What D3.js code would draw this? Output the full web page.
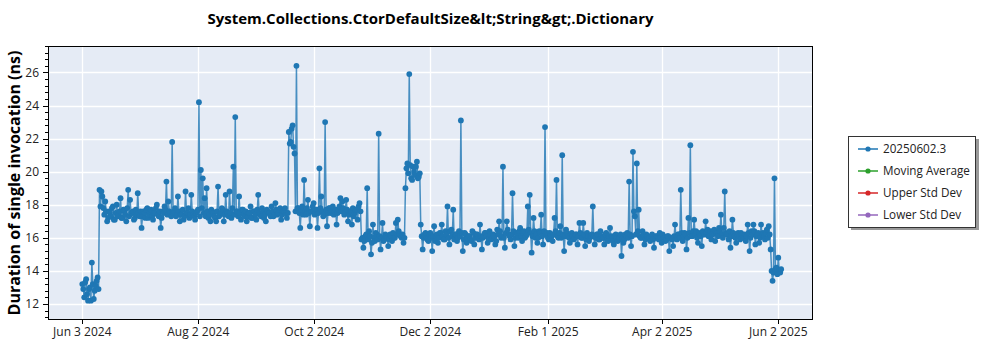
<!DOCTYPE html>
<html><head><meta charset="utf-8">
<script src="https://cdn.jsdelivr.net/npm/d3@7"></script>
<style>body{margin:0;background:#fff;} svg{display:block;}</style>
</head><body><svg id="c" width="1000" height="350"></svg>
<script>
const chartTitle = "System.Collections.CtorDefaultSize&lt;String&gt;.Dictionary";
const yAxisLabel = "Duration of single invocation (ns)";
const seriesStart = "2024-06-03";
const seriesValuesRunA = [
13.2,12.4,13.5,12.2,13.0,14.5,12.3,13.1,13.6,
18.9,18.8,17.8,18.2,17.0,17.6,17.3,17.9,17.1,18.0,17.4,18.4,17.2,17.6,17.0,18.9,18.3,17.5,17.1,17.7,18.7,
17.3,16.6,17.6,17.2,17.8,17.4,17.7,17.1,17.5,18.0,17.3,16.6,17.6,17.9,19.4,18.2,17.5,21.8,17.6,17.3,
18.5,17.0,17.4,17.1,18.8,17.5,17.2,18.6,17.4,17.1,17.6,24.2,20.1,19.6,18.4,19.0,17.2,17.0,17.6,17.3,
17.0,19.1,17.4,17.8,17.0,18.6,17.5,18.8,17.2,20.3,23.3,17.6,18.5,17.1,17.7,17.3,17.0,17.5,17.9,17.2,
17.6,17.1,18.6,17.4,17.8,17.2,17.0,17.6,17.5,17.9,17.3,18.1,17.4,17.7,17.1,17.6,17.8,17.2,
22.4,21.8,22.8,21.1,26.4,17.8,16.6,17.9,19.5,17.4,18.3,16.7,17.6,18.1,17.5,16.6,20.2,18.5,17.3,23.0,
16.7,17.8,17.5,17.9,17.6,16.8,17.7,18.4,18.2,17.4,18.3,17.0,17.6,16.8,17.3,17.7,17.1,18.1,
15.9,15.4,16.1,19.0,16.4,15.0,16.8,15.8,16.2,22.3,15.3,16.9,15.9,16.1,15.5,16.2,15.8,16.0,16.9,17.1,16.2,16.0,15.7,
19.0,20.5,25.9,19.6,20.3,19.8,20.6,19.7,
16.8,15.3,16.2,16.0,15.8,16.3,15.2,16.7,16.1,15.7,16.3,16.8,15.9,16.4,17.9,15.6,16.5,17.7,16.2,15.8,
16.4,23.1,15.2,16.3,15.7,16.1,15.9,16.4,15.6,16.2,16.0,16.8,15.3,16.1,16.3,15.7,16.4,15.9,16.2,15.6,
16.5,17.0,16.0,20.3,15.4,17.0,16.2,15.9,18.7,15.5,16.3,16.0,16.6,15.8,16.4,16.1,17.9,18.6,15.1,17.2,
16.0,15.7,16.4,17.4,15.6,22.7,16.3,15.9,16.2,15.8,17.2,19.5,16.0,16.7,21.0,15.2,16.5,16.1,15.7,16.3,
15.9,16.2,15.6,16.9,16.0,16.9,15.5,16.3,15.8,16.1,17.9,15.6,16.2,15.9,16.4,
16.0,15.6,16.3,15.8,16.6,16.1,15.6,16.2,15.8,16.0,14.9,15.7,16.2,16.3,19.4,15.5,21.2,17.3,20.5,17.7,
16.0,16.4,15.6,16.2,16.0,15.8,16.2,15.4,16.1,16.0,16.3,15.7,16.0,15.8,16.1,15.2,16.0,15.5,16.8,15.9,
16.2,18.9,15.8,16.3,15.3,17.2,21.6,16.1,17.1,16.4,15.7,16.2,15.5,16.3,17.0,16.5,16.1,15.9,16.4,15.8,
16.3,16.6,17.4,16.0,18.8,16.2,15.9,15.4,17.1,16.1,15.7,16.3,15.9,16.2,16.0,15.8,16.8,15.2,16.4,16.8,
15.6,16.2,15.7,16.8,16.3,15.9,16.5,16.7,
15.3,13.4,19.6,14.2,14.8,13.9
];
// second measurement of each day (ns), half a day later
const seriesValuesRunB = [
12.9,13.3,12.6,12.9,12.2,13.2,12.8,13.4,12.9,
17.9,18.5,17.4,17.6,17.2,17.5,17.8,17.1,17.5,17.3,17.6,17.2,17.7,17.4,17.8,17.3,17.5,17.6,17.2,17.4,17.5,
17.6,17.3,17.5,17.7,17.2,17.6,17.3,17.5,17.8,17.4,17.6,17.2,17.5,17.7,17.4,17.6,17.3,17.5,17.8,17.4,
17.6,17.4,17.7,17.3,17.5,17.8,17.4,17.6,17.3,17.5,17.7,17.3,17.8,17.5,17.3,17.6,17.4,17.7,17.5,17.2,
17.6,17.3,17.5,17.7,17.4,17.6,17.3,17.5,17.8,17.4,17.6,17.3,17.5,17.7,17.4,17.6,17.3,17.5,17.2,17.6,
17.4,17.7,17.5,17.3,17.6,17.4,17.7,17.5,17.3,17.6,17.4,17.7,17.5,17.8,17.4,17.6,17.5,17.5,
21.7,22.6,21.5,17.6,17.8,
17.5,17.7,17.4,17.6,17.8,17.5,17.6,17.9,17.4,17.7,17.5,17.8,17.6,17.4,17.7,17.5,17.8,17.6,17.4,17.7,
17.5,17.9,17.6,17.8,17.5,17.7,17.4,17.6,17.8,17.5,17.7,17.9,17.6,
16.0,15.8,16.2,15.9,16.1,15.7,16.0,16.3,15.9,16.1,16.0,15.8,16.2,16.0,15.9,16.1,16.3,16.0,16.2,16.4,16.1,16.2,16.0,
20.2,19.9,20.4,19.5,20.0,20.3,19.6,19.9,
16.1,16.0,16.3,15.9,16.2,16.0,16.1,15.8,16.2,16.0,
16.3,16.1,15.9,16.2,16.0,16.4,16.1,15.9,16.2,16.0,
16.1,16.3,15.9,16.2,16.0,16.1,15.8,16.3,16.0,16.2,
15.9,16.1,16.0,16.3,16.1,15.9,16.2,16.0,16.1,15.8,
16.2,16.4,16.1,16.0,16.3,16.5,16.1,16.2,16.4,16.0,
16.2,16.4,16.1,16.3,16.0,16.2,16.5,16.3,16.1,16.4,
16.2,16.0,16.3,16.1,16.4,16.2,16.0,16.3,16.1,16.2,
16.4,16.1,16.3,16.0,16.2,16.1,16.3,16.0,16.2,16.1,
16.0,16.2,16.1,16.3,16.0,16.2,15.9,16.1,16.0,16.2,
16.1,16.0,16.2,15.9,16.1,16.0,16.2,15.9,16.1,16.0,
15.8,16.1,16.0,15.9,16.2,16.0,15.9,16.1,16.0,16.2,
16.1,17.6,16.2,16.4,16.1,16.0,16.2,15.9,16.1,16.0,
16.1,15.9,16.0,16.1,15.9,16.0,16.2,16.0,15.9,16.1,
16.0,15.9,16.1,16.0,16.2,16.0,16.3,16.1,16.2,16.0,
16.3,16.1,16.4,16.2,16.0,16.3,16.1,16.4,16.2,16.3,
16.1,16.4,16.2,16.5,16.3,16.1,16.4,16.2,16.6,16.3,
16.2,16.4,16.1,16.3,16.0,16.2,16.1,16.3,16.0,16.2,
16.1,16.3,16.0,16.2,16.4,16.1,16.3,16.0,16.2,16.1,
16.3,16.0,16.2,
14.0,13.9,14.1,13.8,14.0,14.1
];
const xTickDates = ["2024-06-03T00:00","2024-08-02T16:00","2024-10-02T08:00","2024-12-02T00:00","2025-02-01T16:00","2025-04-02T08:00","2025-06-02T00:00"];
const xTickLabels = ["Jun 3 2024","Aug 2 2024","Oct 2 2024","Dec 2 2024","Feb 1 2025","Apr 2 2025","Jun 2 2025"];
const yTickValues = [12,14,16,18,20,22,24,26];
const legendNames = ["20250602.3","Moving Average","Upper Std Dev","Lower Std Dev"];
const legendColors = ["#1f77b4","#2ca02c","#d62728","#9467bd"];

const svg = d3.select("#c");
const font = "'Open Sans', 'Noto Sans', sans-serif";
const L = 48, R = 813, T = 46, B = 320;
const parse = d3.isoParse;
const x = d3.scaleTime().domain([parse("2024-05-16T01:30"), parse("2025-06-20T03:40")]).range([L, R]);
const y = d3.scaleLinear().domain([11.03, 27.6]).range([B, T]);

const start = parse(seriesStart + "T00:00");
const data = seriesValuesRunA.map((v, i) => ({d: d3.timeDay.offset(start, i), v}))
  .concat(seriesValuesRunB.map((v, i) => ({d: d3.timeHour.offset(d3.timeDay.offset(start, i), 12), v})))
  .sort((a, b) => a.d - b.d);

svg.append("rect").attr("x", L).attr("y", T).attr("width", R - L).attr("height", B - T).attr("fill", "#e5ebf5");

svg.append("clipPath").attr("id", "clip").append("rect").attr("x", L).attr("y", T).attr("width", R - L).attr("height", B - T);

// grid
const g = svg.append("g");
g.selectAll(".gy").data(yTickValues).join("line")
  .attr("x1", L).attr("x2", R).attr("y1", d => Math.round(y(d)) + 0.5).attr("y2", d => Math.round(y(d)) + 0.5)
  .attr("stroke", "#fff").attr("stroke-width", 1.3);
g.selectAll(".gx").data(xTickDates).join("line")
  .attr("y1", T).attr("y2", B).attr("x1", d => Math.round(x(parse(d))) + 0.5).attr("x2", d => Math.round(x(parse(d))) + 0.5)
  .attr("stroke", "#fff").attr("stroke-width", 1.3);

// series
const plot = svg.append("g").attr("clip-path", "url(#clip)");
const line = d3.line().x(d => x(d.d)).y(d => y(d.v));
plot.append("path").datum(data).attr("d", line).attr("fill", "none")
  .attr("stroke", "#1f77b4").attr("stroke-width", 1.5).attr("stroke-opacity", 0.8);
plot.selectAll("circle").data(data).join("circle")
  .attr("cx", d => x(d.d)).attr("cy", d => y(d.v)).attr("r", 2.9).attr("fill", "#1f77b4");

// frame
svg.append("rect").attr("x", L + 0.5).attr("y", T + 0.5).attr("width", R - L - 1).attr("height", B - T - 1)
  .attr("fill", "none").attr("stroke", "#000").attr("stroke-width", 1);

// y axis ticks
const yMinor = d3.range(11.2, 27.61, 0.4).filter(v => yTickValues.every(t => Math.abs(t - v) > 0.05));
svg.append("g").selectAll("line").data(yMinor).join("line")
  .attr("x1", L - 3).attr("x2", L).attr("y1", d => Math.round(y(d)) + 0.5).attr("y2", d => Math.round(y(d)) + 0.5)
  .attr("stroke", "#000");
svg.append("g").selectAll("line").data(yTickValues).join("line")
  .attr("x1", L - 5).attr("x2", L).attr("y1", d => Math.round(y(d)) + 0.5).attr("y2", d => Math.round(y(d)) + 0.5)
  .attr("stroke", "#000");
svg.append("g").selectAll("text").data(yTickValues).join("text")
  .attr("x", L - 9).attr("y", d => y(d)).attr("dy", "0.35em").attr("text-anchor", "end")
  .attr("font-family", font).attr("font-size", 12).attr("fill", "#222").text(d => d);

// x axis ticks
svg.append("g").selectAll("line").data(xTickDates).join("line")
  .attr("y1", B).attr("y2", B + 4).attr("x1", d => Math.round(x(parse(d))) + 0.5).attr("x2", d => Math.round(x(parse(d))) + 0.5)
  .attr("stroke", "#000");
svg.append("g").selectAll("text").data(xTickDates).join("text")
  .attr("x", d => x(parse(d))).attr("y", 332).attr("dy", "0.35em").attr("text-anchor", "middle")
  .attr("font-family", font).attr("font-size", 12).attr("fill", "#222").text((d, i) => xTickLabels[i]);

// titles
svg.append("text").attr("x", (L + R) / 2).attr("y", 19).attr("dy", "0.35em").attr("text-anchor", "middle")
  .attr("font-family", font).attr("font-weight", "bold").attr("font-size", 15).attr("fill", "#000").text(chartTitle);
svg.append("text").attr("transform", `translate(14.5,${(T + B) / 2}) rotate(-90)`).attr("dy", "0.35em").attr("text-anchor", "middle")
  .attr("font-family", font).attr("font-weight", "bold").attr("font-size", 16).attr("fill", "#000").text(yAxisLabel);

// legend
const lg = svg.append("g");
lg.append("rect").attr("x", 851).attr("y", 139).attr("width", 128).attr("height", 91).attr("fill", "#999");
lg.append("rect").attr("x", 848.5).attr("y", 136.5).attr("width", 127).attr("height", 91).attr("fill", "#fff").attr("stroke", "#333");
legendNames.forEach((n, i) => {
  const yy = 149 + i * 22;
  lg.append("line").attr("x1", 858).attr("x2", 878).attr("y1", yy).attr("y2", yy).attr("stroke", legendColors[i]).attr("stroke-width", 1.5);
  lg.append("circle").attr("cx", 868).attr("cy", yy).attr("r", 2.6).attr("fill", legendColors[i]);
  lg.append("text").attr("x", 883).attr("y", yy).attr("dy", "0.35em").attr("font-family", font).attr("font-size", 11.7)
    .attr("fill", "#222").text(n);
});
</script></body></html>
